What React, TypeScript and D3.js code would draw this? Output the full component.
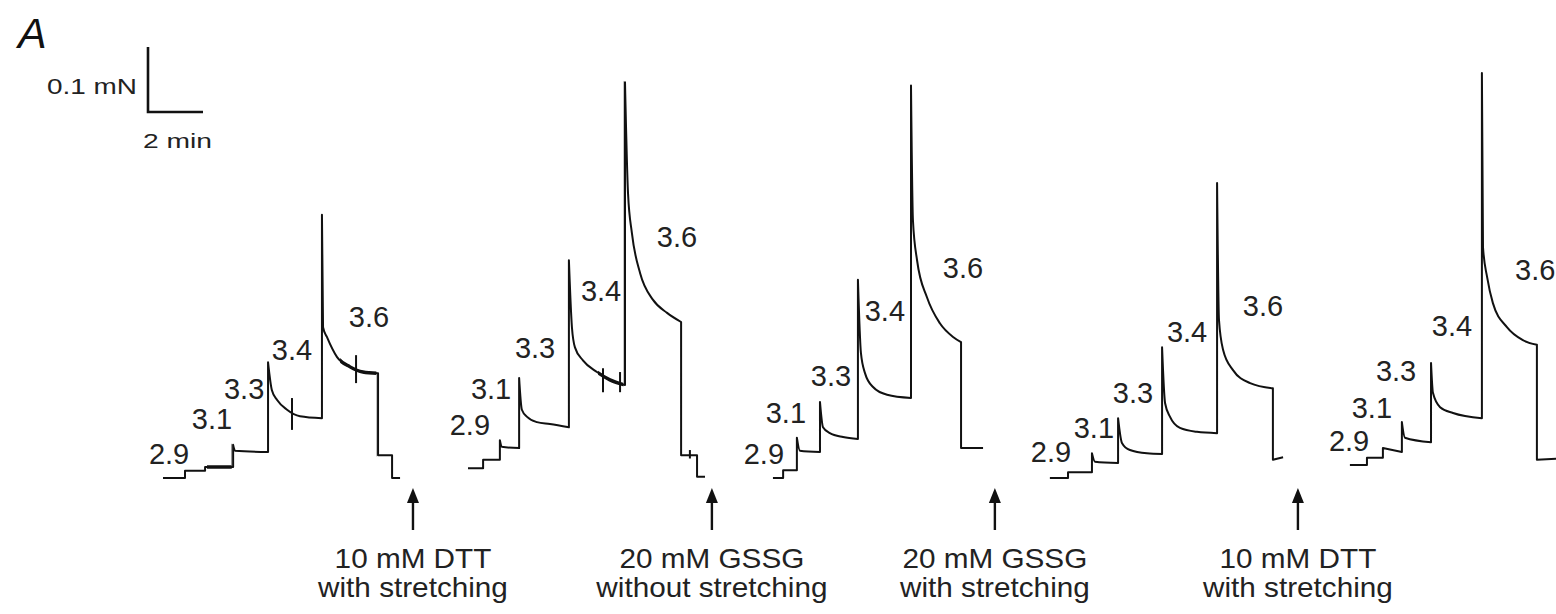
import * as d3 from 'd3';

// Force traces, time in min, force in µN (0 = resting level of the first trace).
// Each trace is a list of segments; a new segment starts at every solution change.
const pCaSteps = ['2.9', '3.1', '3.3', '3.4', '3.6'];

const traceDTT1 = [
    [[0, 0], [0.8, 0]],
    [[0.8, 11], [1.53, 11]],
    [[1.53, 17], [2.55, 17]],
    [[2.55, 51], [2.62, 42], [3.82, 40]],
    [[3.82, 178], [3.96, 135], [4.15, 120], [4.51, 105], [4.98, 95], [5.78, 92]],
    [[5.78, 405], [5.82, 232], [5.96, 217], [6.33, 186], [6.8, 171], [7.27, 163], [7.82, 161]],
    [[7.82, 35], [8.33, 35]],
    [[8.33, 0], [8.62, 0]],
];
const traceGSSG1 = [
    [[11.09, 15], [11.64, 15]],
    [[11.64, 28], [12.25, 28]],
    [[12.25, 58], [12.32, 48], [12.95, 46]],
    [[12.95, 154], [13.05, 105], [13.24, 94], [13.6, 86], [14.07, 83], [14.76, 78]],
    [[14.76, 335], [14.87, 232], [14.98, 201], [15.27, 181], [15.78, 163], [16.25, 151], [16.8, 143]],
    [[16.8, 609], [16.91, 438], [17.05, 377], [17.35, 315], [17.82, 274], [18.33, 254], [18.84, 240]],
    [[18.84, 35], [19.42, 35]],
    [[19.42, 2], [19.71, 2]],
];
const traceGSSG2 = [
    [[22.18, 0], [22.55, 0]],
    [[22.55, 12], [23.05, 12]],
    [[23.05, 62], [23.16, 42], [23.89, 40]],
    [[23.89, 117], [24.0, 78], [24.25, 69], [24.73, 63], [25.27, 60]],
    [[25.27, 305], [25.38, 192], [25.53, 161], [25.82, 140], [26.33, 128], [27.2, 123]],
    [[27.2, 604], [27.27, 397], [27.42, 335], [27.78, 278], [28.25, 238], [28.73, 217], [29.02, 209]],
    [[29.02, 46], [29.82, 46]],
];
const traceDTT2 = [
    [[32.25, 0], [32.91, 0]],
    [[32.91, 9], [33.78, 9]],
    [[33.78, 38], [33.89, 25], [34.73, 23]],
    [[34.73, 92], [34.87, 54], [35.16, 43], [35.78, 38], [36.33, 37]],
    [[36.33, 201], [36.44, 115], [36.62, 94], [36.98, 77], [37.6, 71], [38.33, 69]],
    [[38.33, 454], [38.4, 243], [38.55, 197], [38.91, 166], [39.53, 146], [40.36, 138]],
    [[40.36, 28], [40.73, 32]],
];
const traceFinal = [
    [[43.16, 20], [43.78, 20]],
    [[43.78, 31], [44.36, 31]],
    [[44.36, 46], [45.05, 40]],
    [[45.05, 86], [45.16, 62], [46.11, 55]],
    [[46.11, 177], [46.18, 131], [46.44, 109], [46.91, 100], [47.96, 92]],
    [[47.96, 623], [48.0, 355], [48.15, 309], [48.36, 269], [48.87, 232], [49.45, 212], [49.96, 205]],
    [[49.96, 28], [50.8, 30]],
];
const traces = [traceDTT1, traceGSSG1, traceGSSG2, traceDTT2, traceFinal];

// where each pCa label sits (t, force), same order as pCaSteps
const labelsDTT1 = [[0.22, 38], [1.78, 92], [2.95, 138], [4.69, 198], [7.49, 248]];
const labelsGSSG1 = [[11.16, 82], [11.93, 138], [13.53, 200], [15.93, 289], [18.69, 372]];
const labelsGSSG2 = [[21.85, 38], [22.65, 100], [24.29, 157], [26.25, 258], [29.09, 323]];
const labelsDTT2 = [[32.29, 40], [33.85, 78], [35.27, 131], [37.24, 226], [40.0, 265]];
const labelsFinal = [[43.13, 58], [43.96, 109], [44.84, 165], [46.87, 234], [49.9, 320]];
const labelSets = [labelsDTT1, labelsGSSG1, labelsGSSG2, labelsDTT2, labelsFinal];

// stretch artefacts: time, low, high
const artefacts = [[4.69, 74, 123], [7.02, 146, 189], [16.0, 132, 169], [16.62, 132, 163], [19.16, 30, 43]];
// noisy stretches of the record [from, to]
const noisy = [[1.6, 2.5], [6.44, 7.76], [15.82, 16.74]];

const treatmentTimes = [9.09, 19.96, 30.25, 41.27];
const treatmentDrug = ['10 mM DTT', '20 mM GSSG', '20 mM GSSG', '10 mM DTT'];
const treatmentMode = ['with stretching', 'without stretching', 'with stretching', 'with stretching'];

const scaleForce = 100; // µN
const scaleTime = 2; // min

const W = 1556;
const H = 614;
const font = "'Liberation Sans', Arial, Helvetica, sans-serif";

const x = d3.scaleLinear().domain([0, 2]).range([163, 218]);
const y = d3.scaleLinear().domain([0, 100]).range([478, 413]);

const line = d3.line<number[]>()
    .x(d => x(d[0]))
    .y(d => y(d[1]))
    .curve(d3.curveMonotoneX);

function tracePath(segs: number[][][]) {
    return segs.map((s, i) => {
        const d = line(s) || '';
        return i === 0 ? d : 'L' + d.slice(1);
    }).join('');
}

export default function App() {
    const barX = 148;
    const barY = 112;
    const barW = x(scaleTime) - x(0);
    const barH = y(0) - y(scaleForce);

    return (
        <svg width={W} height={H} viewBox={`0 0 ${W} ${H}`}
            style={{ position: 'absolute', left: 0, top: 0, display: 'block', background: '#fff' }}>
            <defs>
                {noisy.map((n, i) => (
                    <clipPath id={`noise${i}`} key={i}>
                        <rect x={x(n[0])} y={0} width={x(n[1]) - x(n[0])} height={H} />
                    </clipPath>
                ))}
            </defs>

            <text x={18} y={48} fontFamily={font} fontStyle='italic' fontSize={43} fill='#111'>A</text>

            {/* scale bar */}
            <path d={`M${barX},${barY - barH}V${barY}H${barX + barW}`} fill='none' stroke='#111' strokeWidth={2.6} />
            <text x={137} y={94} textAnchor='end' fontFamily={font} fontSize={22} fill='#222'
                textLength={90} lengthAdjust='spacingAndGlyphs'>0.1 mN</text>
            <text x={143} y={148} fontFamily={font} fontSize={21} fill='#222'
                textLength={69} lengthAdjust='spacingAndGlyphs'>2 min</text>

            {/* traces */}
            <g fill='none' stroke='#111' strokeWidth={2} strokeLinejoin='round'>
                {traces.map((t, i) => <path key={i} d={tracePath(t)} />)}
                {traces.map((t, i) =>
                    noisy.map((n, j) => (
                        <path key={`${i}-${j}`} d={tracePath(t)} strokeWidth={3.4} clipPath={`url(#noise${j})`} />
                    )))}
                {artefacts.map((a, i) => (
                    <line key={i} x1={x(a[0])} x2={x(a[0])} y1={y(a[1])} y2={y(a[2])} />
                ))}
            </g>

            {/* pCa labels */}
            <g fontFamily={font} fontSize={29} fill='#222' textAnchor='middle'>
                {labelSets.map((set, i) => set.map((p, j) => (
                    <text key={`${i}-${j}`} x={x(p[0])} y={y(p[1])} dy='0.36em'>{pCaSteps[j]}</text>
                )))}
            </g>

            {/* treatments */}
            {treatmentTimes.map((t, i) => (
                <g key={i}>
                    <line x1={x(t)} x2={x(t)} y1={500} y2={530} stroke='#111' strokeWidth={2.4} />
                    <path d={`M${x(t)},488L${x(t) - 6},503L${x(t) + 6},503Z`} fill='#111' />
                    <g transform={`translate(${x(t)},0) scale(1.1,1)`} fontFamily={font} fontSize={27} fill='#222' textAnchor='middle'>
                        <text x={0} y={568}>{treatmentDrug[i]}</text>
                        <text x={0} y={597}>{treatmentMode[i]}</text>
                    </g>
                </g>
            ))}
        </svg>
    );
}
